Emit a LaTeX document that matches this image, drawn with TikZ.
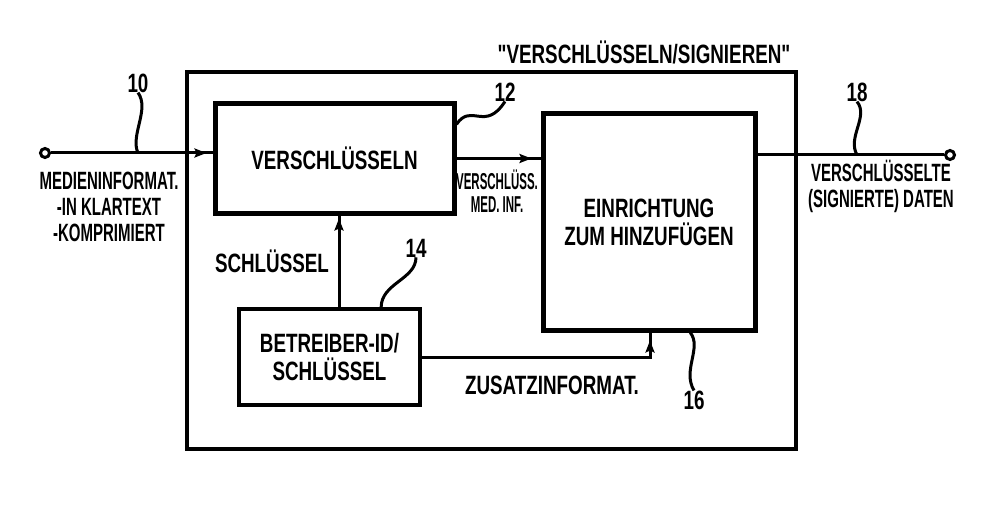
\documentclass[tikz,border=0pt]{standalone}
\usepackage{fontspec}
\setmainfont{Liberation Sans}
\newfontfamily\blockfont[FakeStretch=0.71]{Liberation Sans Bold}
\newfontfamily\edgefont[FakeStretch=0.6]{Liberation Sans Bold}
\newfontfamily\tinyfont[FakeStretch=0.5]{Liberation Sans Bold}
\usetikzlibrary{arrows.meta,positioning,calc,decorations.markings}

\begin{document}
\begin{tikzpicture}[x=1pt, y=-1pt,
    box/.style={draw, line width=5pt, align=center, inner sep=0pt,
      font=\blockfont\fontsize{26.5}{28}\selectfont},
    thinbox/.style={box, line width=3.5pt},
    wire/.style={line width=3pt},
    lead/.style={line width=3pt},
    port/.style={circle, draw, fill=white, line width=3pt, inner sep=0pt, minimum size=9pt},
    txt/.style={font=\blockfont\fontsize{26.5}{28}\selectfont, inner sep=0pt, align=center},
    edgetxt/.style={font=\edgefont\fontsize{25}{26}\selectfont, inner sep=0pt, align=center},
    midtip/.style={postaction={decorate}, decoration={markings,
      mark=at position #1 with {\arrow{Stealth[length=12pt,width=9pt,inset=2pt]}}}},
  ]
    \fill[white] (0,0) rectangle (991,532);
    \useasboundingbox (0,0) rectangle (991,532);

    % outer frame and its title
    \node[thinbox, minimum width=609pt, minimum height=377pt] (frame) at (491.5,260.5) {};
    \node[txt] (title) at (644,52) {"VERSCHLÜSSELN/SIGNIEREN"};

    % blocks
    \node[box, minimum width=239pt, minimum height=109pt] (enc) at (334.5,158.5) {VERSCHLÜSSELN};
    \node[box, minimum width=212pt, minimum height=216pt] (add) at (649,222) {EINRICHTUNG\\ZUM HINZUFÜGEN};
    \node[thinbox, minimum width=181pt, minimum height=96pt] (op) at (329.5,357) {BETREIBER-ID/\\SCHLÜSSEL};

    % terminals
    \node[port] (in) at (45,153) {};
    \node[port] (out) at (950,155) {};

    % signal lines
    \draw[wire, midtip=-6pt] (in) -- (in -| enc.west);
    \draw[wire, midtip=-9pt] (enc.east) -- (enc.east -| add.west);
    \draw[wire] (out -| add.east) -- (out);

    \coordinate (kx) at (339,0);
    \draw[wire, midtip=-3pt] (kx |- op.north) -- (kx |- enc.south);

    \coordinate (zk) at (650,357);
    \draw[wire, midtip=-8pt] (op.east) -- (zk) -- (zk |- add.south);

    % line labels
    \node[edgetxt] (inlab) at (109,207) {MEDIENINFORMAT.\\-IN KLARTEXT\\-KOMPRIMIERT};
    \node[edgetxt] (outlab) at (881,186) {VERSCHLÜSSELTE\\(SIGNIERTE) DATEN};
    \node[font=\tinyfont\fontsize{23}{23}\selectfont, inner sep=0pt, align=center] (mlab) at (497,191) {VERSCHLÜSS.\\MED. INF.};
    \node[txt] (keylab) at (272,261) {SCHLÜSSEL};
    \node[txt] (zlab) at (552,385) {ZUSATZINFORMAT.};

    % reference numerals
    \node[txt] (n10) at (138,83) {10};
    \node[txt] (n12) at (505,92) {12};
    \node[txt] (n14) at (416,248) {14};
    \node[txt] (n16) at (694,400) {16};
    \node[txt] (n18) at (857,92) {18};

    \draw[lead] (n10.south) .. controls +(12,17) and +(-8,-18) .. (in -| n10);
    \draw[lead] ($(enc.north east)!0.2!(enc.south east)$) .. controls +(15,-22) and +(-20,31) .. (n12.south);
    \draw[lead] ($(op.north west)!0.78!(op.north east)$) .. controls +(0,-24) and +(0,22) .. (n14.south);
    \draw[lead] ($(add.south west)!0.69!(add.south east)$) .. controls +(12,15) and +(-12,-20) .. (n16.north);
    \draw[lead] (n18.south) .. controls +(12,15) and +(-10,-18) .. (n18 |- out);
\end{tikzpicture}
\end{document}
